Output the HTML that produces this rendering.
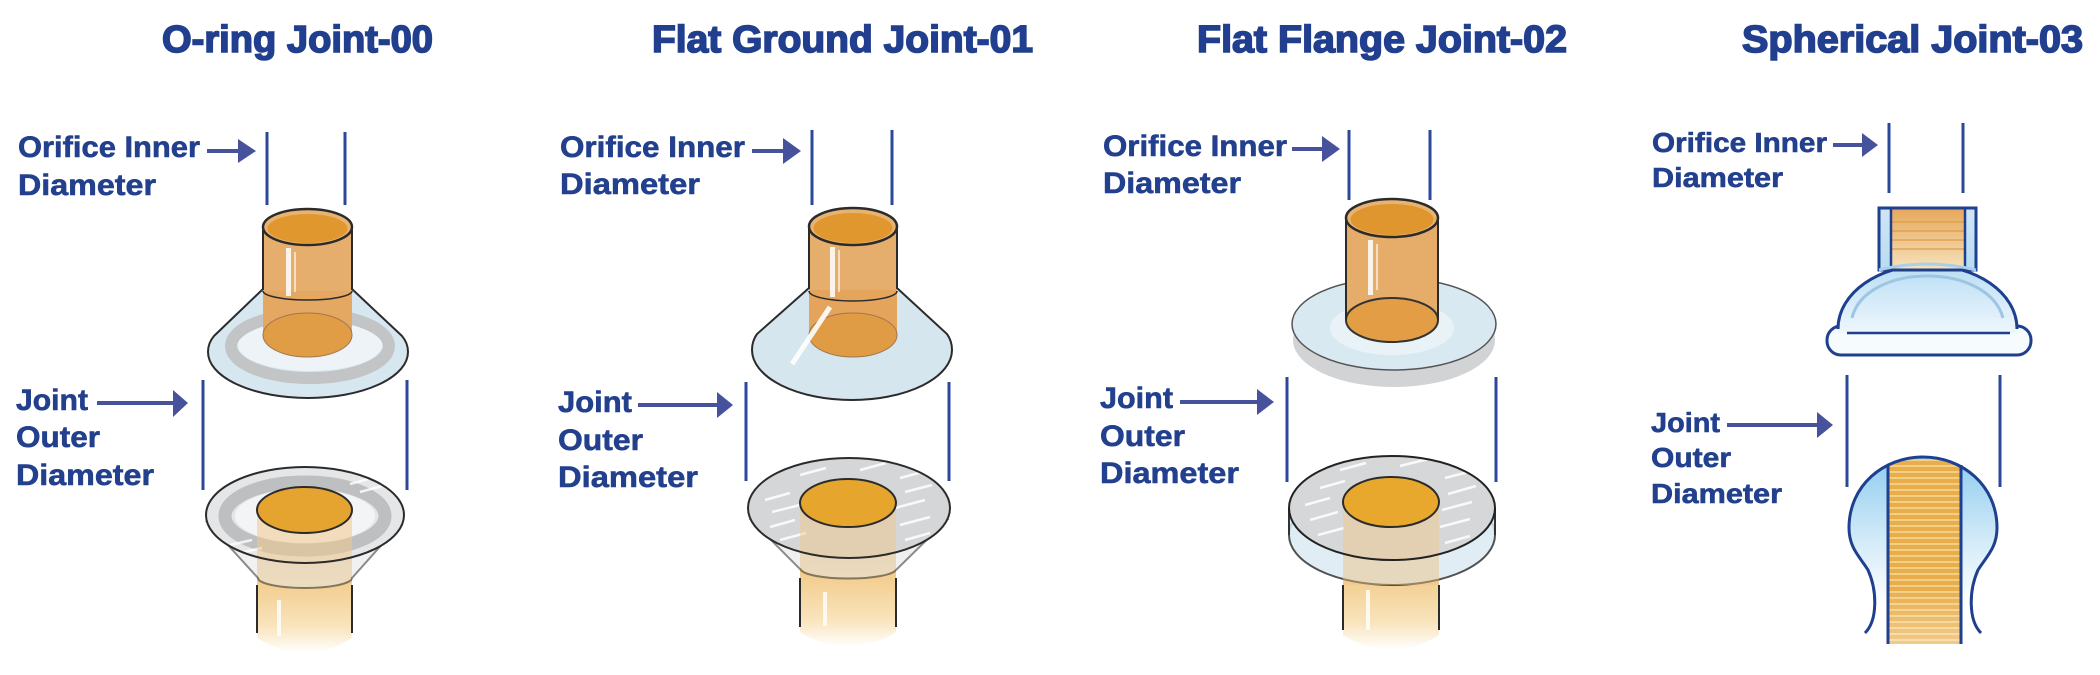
<!DOCTYPE html>
<html><head><meta charset="utf-8">
<style>
html,body{margin:0;padding:0;background:#fff;}
svg{display:block;}
.ti{font-family:"Liberation Sans",Arial,sans-serif;font-weight:bold;font-size:38px;fill:#213f8e;stroke:#213f8e;stroke-width:1.6;}
.lb{font-family:"Liberation Sans",Arial,sans-serif;font-weight:bold;font-size:30px;fill:#22408d;stroke:#22408d;stroke-width:0.6;}
.lb4{font-family:"Liberation Sans",Arial,sans-serif;font-weight:bold;font-size:28px;fill:#22408d;stroke:#22408d;stroke-width:0.6;}
</style></head><body>
<svg width="2100" height="675" viewBox="0 0 2100 675" xmlns="http://www.w3.org/2000/svg">
<defs>
  <linearGradient id="cyl" x1="0" y1="0" x2="0" y2="1">
    <stop offset="0" stop-color="#eebd74"/>
    <stop offset="0.55" stop-color="#f3cf92"/>
    <stop offset="0.82" stop-color="#f9e4bd"/>
    <stop offset="1" stop-color="#ffffff"/>
  </linearGradient>
  <linearGradient id="ball" x1="0" y1="0" x2="0" y2="1">
    <stop offset="0" stop-color="#8fccef"/>
    <stop offset="0.5" stop-color="#d6ecf9"/>
    <stop offset="0.85" stop-color="#ffffff"/>
  </linearGradient>
  <linearGradient id="dome" x1="0" y1="0" x2="0" y2="1">
    <stop offset="0" stop-color="#b9ddf4"/>
    <stop offset="1" stop-color="#eef7fd"/>
  </linearGradient>
  <linearGradient id="neckO" x1="0" y1="0" x2="0" y2="1">
    <stop offset="0" stop-color="#e6a85a"/>
    <stop offset="1" stop-color="#f6e2bd"/>
  </linearGradient>
  <linearGradient id="neckB" x1="0" y1="0" x2="0" y2="1">
    <stop offset="0" stop-color="#cfe5f5"/>
    <stop offset="1" stop-color="#b8dcf3"/>
  </linearGradient>
  <pattern id="stripes" patternUnits="userSpaceOnUse" width="20" height="6">
    <rect width="20" height="6" fill="#e9ae4c"/>
    <rect y="3" width="20" height="2" fill="#f3cf86"/>
  </pattern>
  <pattern id="stripesT" patternUnits="userSpaceOnUse" width="20" height="9">
    <rect width="20" height="9" fill="none"/>
    <rect y="5" width="20" height="2" fill="#e09a45" opacity="0.6"/>
  </pattern>
  <linearGradient id="stemFade" x1="0" y1="0" x2="0" y2="1">
    <stop offset="0" stop-color="#fff" stop-opacity="0"/>
    <stop offset="0.7" stop-color="#fff" stop-opacity="0"/>
    <stop offset="1" stop-color="#fff" stop-opacity="0.35"/>
  </linearGradient>
  <clipPath id="c1"><path d="M263,289 L214,336 Q208,343 208,352 A100,46 0 0 0 408,352 Q408,343 402,336 L352,289 Z"/></clipPath>
  <clipPath id="d1"><ellipse cx="305" cy="515" rx="99" ry="48"/></clipPath>
  <clipPath id="d2"><ellipse cx="849" cy="508" rx="101" ry="50"/></clipPath>
  <clipPath id="d3"><ellipse cx="1392" cy="508" rx="103" ry="52"/></clipPath>
</defs>

<!-- Titles -->
<text class="ti" x="162" y="52" textLength="271" lengthAdjust="spacingAndGlyphs">O-ring Joint-00</text>
<text class="ti" x="652" y="52" textLength="381" lengthAdjust="spacingAndGlyphs">Flat Ground Joint-01</text>
<text class="ti" x="1197" y="52" textLength="370" lengthAdjust="spacingAndGlyphs">Flat Flange Joint-02</text>
<text class="ti" x="1742" y="52" textLength="341" lengthAdjust="spacingAndGlyphs">Spherical Joint-03</text>

<!-- Labels col1 -->
<text class="lb" x="18" y="157" textLength="182" lengthAdjust="spacingAndGlyphs">Orifice Inner</text>
<text class="lb" x="18" y="195" textLength="138" lengthAdjust="spacingAndGlyphs">Diameter</text>
<text class="lb" x="16" y="410" textLength="72" lengthAdjust="spacingAndGlyphs">Joint</text>
<text class="lb" x="16" y="447" textLength="84" lengthAdjust="spacingAndGlyphs">Outer</text>
<text class="lb" x="16" y="485" textLength="138" lengthAdjust="spacingAndGlyphs">Diameter</text>
<!-- Labels col2 -->
<text class="lb" x="560" y="157" textLength="185" lengthAdjust="spacingAndGlyphs">Orifice Inner</text>
<text class="lb" x="560" y="194" textLength="140" lengthAdjust="spacingAndGlyphs">Diameter</text>
<text class="lb" x="558" y="412" textLength="74" lengthAdjust="spacingAndGlyphs">Joint</text>
<text class="lb" x="558" y="450" textLength="85" lengthAdjust="spacingAndGlyphs">Outer</text>
<text class="lb" x="558" y="487" textLength="140" lengthAdjust="spacingAndGlyphs">Diameter</text>
<!-- Labels col3 -->
<text class="lb" x="1103" y="156" textLength="184" lengthAdjust="spacingAndGlyphs">Orifice Inner</text>
<text class="lb" x="1103" y="193" textLength="138" lengthAdjust="spacingAndGlyphs">Diameter</text>
<text class="lb" x="1100" y="408" textLength="73" lengthAdjust="spacingAndGlyphs">Joint</text>
<text class="lb" x="1100" y="446" textLength="85" lengthAdjust="spacingAndGlyphs">Outer</text>
<text class="lb" x="1100" y="483" textLength="139" lengthAdjust="spacingAndGlyphs">Diameter</text>
<!-- Labels col4 -->
<text class="lb4" x="1652" y="152" textLength="175" lengthAdjust="spacingAndGlyphs">Orifice Inner</text>
<text class="lb4" x="1652" y="187" textLength="131" lengthAdjust="spacingAndGlyphs">Diameter</text>
<text class="lb4" x="1651" y="432" textLength="69" lengthAdjust="spacingAndGlyphs">Joint</text>
<text class="lb4" x="1651" y="467" textLength="80" lengthAdjust="spacingAndGlyphs">Outer</text>
<text class="lb4" x="1651" y="503" textLength="131" lengthAdjust="spacingAndGlyphs">Diameter</text>

<!-- Arrows -->
<g stroke="#46539c" stroke-width="4" fill="none">
  <line x1="207" y1="151" x2="240" y2="151"/>
  <line x1="97" y1="403" x2="175" y2="403"/>
  <line x1="752" y1="151" x2="786" y2="151"/>
  <line x1="638" y1="405" x2="719" y2="405"/>
  <line x1="1292" y1="149" x2="1325" y2="149"/>
  <line x1="1180" y1="402" x2="1259" y2="402"/>
  <line x1="1833" y1="145" x2="1864" y2="145"/>
  <line x1="1727" y1="425" x2="1819" y2="425"/>
</g>
<g fill="#46539c">
  <polygon points="238,139 256,151 238,163"/>
  <polygon points="173,390 188,403 173,417"/>
  <polygon points="783,138 801,151 783,164"/>
  <polygon points="717,392 733,405 717,418"/>
  <polygon points="1322,136 1340,149 1322,162"/>
  <polygon points="1257,389 1274,402 1257,415"/>
  <polygon points="1862,133 1878,145 1862,157"/>
  <polygon points="1817,412 1833,425 1817,438"/>
</g>

<!-- Dimension lines -->
<g stroke="#2b489a" stroke-width="3">
  <line x1="267" y1="132" x2="267" y2="205"/><line x1="345" y1="132" x2="345" y2="205"/>
  <line x1="203" y1="380" x2="203" y2="490"/><line x1="407" y1="380" x2="407" y2="490"/>
  <line x1="812" y1="130" x2="812" y2="205"/><line x1="892" y1="130" x2="892" y2="205"/>
  <line x1="746" y1="382" x2="746" y2="481"/><line x1="949" y1="382" x2="949" y2="481"/>
  <line x1="1349" y1="130" x2="1349" y2="200"/><line x1="1430" y1="130" x2="1430" y2="200"/>
  <line x1="1287" y1="377" x2="1287" y2="482"/><line x1="1496" y1="377" x2="1496" y2="482"/>
  <line x1="1889" y1="123" x2="1889" y2="193"/><line x1="1963" y1="123" x2="1963" y2="193"/>
  <line x1="1847" y1="375" x2="1847" y2="487"/><line x1="2000" y1="375" x2="2000" y2="487"/>
</g>

<!-- ================= COLUMN 1 TOP ================= -->
<path d="M263,289 L214,336 Q208,343 208,352 A100,46 0 0 0 408,352 Q408,343 402,336 L352,289 Z" fill="#d7e7ef"/>
<g clip-path="url(#c1)">
  <ellipse cx="310" cy="345" rx="72" ry="26" fill="#edf3f6"/>
  <ellipse cx="310" cy="346" rx="79" ry="32" fill="none" stroke="#c2c4c6" stroke-width="12"/>
</g>
<path d="M263,289 L214,336 Q208,343 208,352 A100,46 0 0 0 408,352 Q408,343 402,336 L352,289" fill="none" stroke="#2b2b2b" stroke-width="2"/>
<rect x="263" y="289" width="89" height="46" fill="#e4a862"/>
<ellipse cx="307.5" cy="335" rx="44.5" ry="22" fill="#e19c46" stroke="#a07850" stroke-width="1"/>
<rect x="263" y="227" width="89" height="64" fill="#e6ae6c"/>
<line x1="263" y1="227" x2="263" y2="290" stroke="#2b2b2b" stroke-width="2"/>
<line x1="352" y1="227" x2="352" y2="290" stroke="#2b2b2b" stroke-width="2"/>
<path d="M263,291 A44.5,9 0 0 0 352,291" fill="none" stroke="#2b2b2b" stroke-width="1.5"/>
<rect x="286" y="248" width="5" height="48" fill="#fff" opacity="0.85"/>
<rect x="294" y="252" width="2" height="40" fill="#fff" opacity="0.6"/>
<ellipse cx="307.5" cy="227" rx="44.5" ry="18" fill="#e8b370" stroke="#2b2b2b" stroke-width="2.5"/>
<ellipse cx="307.5" cy="228.5" rx="40" ry="14.5" fill="#e0972e"/>

<!-- ================= COLUMN 1 BOTTOM ================= -->
<path d="M257,505 L257,638 Q304,668 352,638 L352,505 Z" fill="url(#cyl)"/>
<rect x="277" y="600" width="4" height="36" fill="#fff" opacity="0.8"/>
<line x1="257" y1="585" x2="257" y2="633" stroke="#2b2b2b" stroke-width="2"/>
<line x1="352" y1="585" x2="352" y2="633" stroke="#2b2b2b" stroke-width="2"/>
<path d="M207,522 L258,578 A47,10 0 0 0 352,578 L402,522 Z" fill="#e6e6e6" opacity="0.55" stroke="#2b2b2b" stroke-width="2"/>
<ellipse cx="305" cy="515" rx="99" ry="48" fill="#e5e6e7"/>
<g clip-path="url(#d1)">
  <ellipse cx="305" cy="516" rx="70" ry="27" fill="#f3f4f5"/>
  <ellipse cx="305" cy="516" rx="80" ry="34" fill="none" stroke="#bdbfc1" stroke-width="13"/>
  <g stroke="#fff" stroke-width="2.5" opacity="0.8">
    <line x1="230" y1="545" x2="252" y2="540"/><line x1="240" y1="553" x2="262" y2="548"/>
    <line x1="360" y1="492" x2="382" y2="486"/><line x1="350" y1="484" x2="372" y2="478"/>
  </g>
  <rect x="257" y="505" width="95" height="70" fill="#f0c88c" opacity="0.55"/>
</g>
<ellipse cx="305" cy="515" rx="99" ry="48" fill="none" stroke="#2b2b2b" stroke-width="2"/>
<ellipse cx="304.5" cy="510" rx="47.5" ry="23" fill="#e5a430" stroke="#2b2b2b" stroke-width="2"/>

<!-- ================= COLUMN 2 TOP ================= -->
<path d="M809,288 L757,334 Q752,341 752,350 A100,50 0 0 0 952,350 Q952,341 947,334 L897,288 Z" fill="#d6e6ee" stroke="#2b2b2b" stroke-width="2"/>
<rect x="809" y="288" width="88" height="47" fill="#e4a45c"/>
<ellipse cx="853" cy="335" rx="44" ry="22" fill="#e09b45" stroke="#a07850" stroke-width="1"/>
<line x1="830" y1="307" x2="792" y2="364" stroke="#fff" stroke-width="5" opacity="0.9"/>
<rect x="809" y="226" width="88" height="64" fill="#e6ae6c"/>
<line x1="809" y1="226" x2="809" y2="289" stroke="#2b2b2b" stroke-width="2"/>
<line x1="897" y1="226" x2="897" y2="289" stroke="#2b2b2b" stroke-width="2"/>
<path d="M809,291 A44,10 0 0 0 897,291" fill="none" stroke="#2b2b2b" stroke-width="1.5"/>
<rect x="830" y="247" width="5" height="50" fill="#fff" opacity="0.85"/>
<rect x="838" y="250" width="2" height="42" fill="#fff" opacity="0.6"/>
<ellipse cx="853" cy="226.5" rx="44" ry="18.5" fill="#e8b370" stroke="#2b2b2b" stroke-width="2.5"/>
<ellipse cx="853" cy="228" rx="39.5" ry="15" fill="#e0972e"/>

<!-- ================= COLUMN 2 BOTTOM ================= -->
<path d="M800,498 L800,632 Q848,662 896,632 L896,498 Z" fill="url(#cyl)"/>
<rect x="823" y="592" width="4" height="34" fill="#fff" opacity="0.8"/>
<line x1="800" y1="578" x2="800" y2="627" stroke="#2b2b2b" stroke-width="2"/>
<line x1="896" y1="578" x2="896" y2="627" stroke="#2b2b2b" stroke-width="2"/>
<path d="M751,520 L801,570 A48,10 0 0 0 896,570 L947,520 Z" fill="#e4e4e4" opacity="0.55" stroke="#2b2b2b" stroke-width="2"/>
<ellipse cx="849" cy="508" rx="101" ry="50" fill="#d5d6d7"/>
<g clip-path="url(#d2)">
  <g stroke="#fff" stroke-width="2.5" opacity="0.85">
    <line x1="765" y1="500" x2="790" y2="493"/><line x1="772" y1="512" x2="800" y2="505"/>
    <line x1="770" y1="527" x2="795" y2="520"/><line x1="780" y1="540" x2="806" y2="533"/>
    <line x1="900" y1="478" x2="926" y2="471"/><line x1="905" y1="492" x2="932" y2="485"/>
    <line x1="895" y1="508" x2="925" y2="500"/><line x1="900" y1="525" x2="930" y2="517"/>
    <line x1="860" y1="470" x2="886" y2="463"/><line x1="800" y1="475" x2="826" y2="468"/>
    <line x1="905" y1="540" x2="930" y2="533"/>
  </g>
  <rect x="800" y="498" width="96" height="75" fill="#f0c88c" opacity="0.5"/>
</g>
<ellipse cx="849" cy="508" rx="101" ry="50" fill="none" stroke="#2b2b2b" stroke-width="2"/>
<ellipse cx="848" cy="503" rx="48" ry="24" fill="#e6a52c" stroke="#2b2b2b" stroke-width="2"/>

<!-- ================= COLUMN 3 TOP ================= -->
<ellipse cx="1394" cy="340" rx="101" ry="47" fill="#d2d3d4"/>
<ellipse cx="1394" cy="324" rx="102" ry="46" fill="#d9e9f1" stroke="#555" stroke-width="1.5"/>
<ellipse cx="1392" cy="328" rx="62" ry="27" fill="#e8f2f7"/>
<rect x="1346" y="218" width="92" height="102" fill="#e5ad69"/>
<ellipse cx="1392" cy="320" rx="46" ry="22" fill="#e29d45" stroke="#333" stroke-width="2"/>
<line x1="1346" y1="218" x2="1346" y2="320" stroke="#2b2b2b" stroke-width="2"/>
<line x1="1438" y1="218" x2="1438" y2="320" stroke="#2b2b2b" stroke-width="2"/>
<rect x="1368" y="240" width="5" height="55" fill="#fff" opacity="0.85"/>
<rect x="1376" y="244" width="2" height="46" fill="#fff" opacity="0.6"/>
<ellipse cx="1392" cy="218" rx="46" ry="19" fill="#e8b370" stroke="#2b2b2b" stroke-width="2.5"/>
<ellipse cx="1392" cy="219.5" rx="41.5" ry="15.5" fill="#e0962e"/>

<!-- ================= COLUMN 3 BOTTOM ================= -->
<path d="M1343,498 L1343,635 Q1391,665 1439,635 L1439,498 Z" fill="url(#cyl)"/>
<rect x="1366" y="590" width="4" height="40" fill="#fff" opacity="0.8"/>
<line x1="1343" y1="585" x2="1343" y2="630" stroke="#2b2b2b" stroke-width="2"/>
<line x1="1439" y1="585" x2="1439" y2="630" stroke="#2b2b2b" stroke-width="2"/>
<ellipse cx="1392" cy="535" rx="103" ry="50" fill="#dcebf4" opacity="0.85" stroke="#333" stroke-width="2"/>
<rect x="1289" y="508" width="206" height="27" fill="#dcebf4" opacity="0.85"/>
<rect x="1343" y="508" width="96" height="77" fill="#f0c88c" opacity="0.45"/>
<line x1="1289" y1="508" x2="1289" y2="535" stroke="#333" stroke-width="2"/>
<line x1="1495" y1="508" x2="1495" y2="535" stroke="#333" stroke-width="2"/>
<ellipse cx="1392" cy="508" rx="103" ry="52" fill="#d6d7d8"/>
<g clip-path="url(#d3)">
  <g stroke="#fff" stroke-width="2.5" opacity="0.85">
    <line x1="1305" y1="505" x2="1330" y2="498"/><line x1="1310" y1="520" x2="1338" y2="512"/>
    <line x1="1318" y1="535" x2="1344" y2="528"/><line x1="1320" y1="488" x2="1345" y2="481"/>
    <line x1="1445" y1="478" x2="1472" y2="471"/><line x1="1448" y1="494" x2="1476" y2="486"/>
    <line x1="1442" y1="510" x2="1472" y2="502"/><line x1="1440" y1="527" x2="1470" y2="519"/>
    <line x1="1400" y1="466" x2="1428" y2="459"/><line x1="1340" y1="470" x2="1366" y2="463"/>
    <line x1="1445" y1="543" x2="1470" y2="536"/>
  </g>
  <rect x="1343" y="498" width="96" height="70" fill="#f0c88c" opacity="0.5"/>
</g>
<ellipse cx="1392" cy="508" rx="103" ry="52" fill="none" stroke="#222" stroke-width="2"/>
<ellipse cx="1391" cy="502" rx="48" ry="25" fill="#e8a82d" stroke="#2b2b2b" stroke-width="2"/>

<!-- ================= COLUMN 4 TOP ================= -->
<rect x="1827" y="326" width="204" height="29" rx="14" fill="#f6fbfe" stroke="#1f3f8f" stroke-width="3"/>
<path d="M1838,333 L1838,327 C1838,292 1880,265 1927,265 C1975,265 2017,292 2017,327 L2017,333 Z" fill="url(#dome)"/>
<path d="M1838,329 C1838,292 1880,265 1927,265 C1975,265 2017,292 2017,329" fill="none" stroke="#1f3f8f" stroke-width="3"/>
<path d="M1852,318 C1858,292 1890,276 1927,276 C1965,276 1996,292 2003,318" fill="none" stroke="#9ec6e2" stroke-width="3"/>
<line x1="1847" y1="333" x2="2010" y2="333" stroke="#1f3f8f" stroke-width="2.5"/>
<rect x="1879" y="208" width="97" height="62" fill="url(#neckB)"/>
<rect x="1891" y="208" width="74" height="62" fill="url(#neckO)"/>
<rect x="1891" y="215" width="74" height="40" fill="url(#stripesT)"/>
<rect x="1879" y="208" width="97" height="62" fill="none" stroke="#1f3f8f" stroke-width="3"/>
<line x1="1891" y1="208" x2="1891" y2="268" stroke="#1f3f8f" stroke-width="2.5"/>
<line x1="1965" y1="208" x2="1965" y2="268" stroke="#1f3f8f" stroke-width="2.5"/>
<path d="M1879,270 Q1927,258 1976,270" fill="none" stroke="#a9cfe9" stroke-width="3"/>

<!-- ================= COLUMN 4 BOTTOM ================= -->
<path d="M1865,633 C1878,620 1877,590 1868,570 C1860,557 1849,548 1849,528 C1849,485 1884,457 1923,457 C1962,457 1997,485 1997,528 C1997,548 1986,557 1978,570 C1969,590 1968,620 1981,633 Z" fill="url(#ball)"/>
<path d="M1888,644 L1888,466 Q1923,452 1961,466 L1961,644 Z" fill="url(#stripes)"/>
<path d="M1888,644 L1888,466 Q1923,452 1961,466 L1961,644 Z" fill="url(#stemFade)"/>
<path d="M1865,633 C1878,620 1877,590 1868,570 C1860,557 1849,548 1849,528 C1849,485 1884,457 1923,457 C1962,457 1997,485 1997,528 C1997,548 1986,557 1978,570 C1969,590 1968,620 1981,633" fill="none" stroke="#1f3f8f" stroke-width="3"/>
<line x1="1888" y1="465" x2="1888" y2="644" stroke="#1f3f8f" stroke-width="3"/>
<line x1="1961" y1="465" x2="1961" y2="644" stroke="#1f3f8f" stroke-width="3"/>
</svg>
</body></html>
